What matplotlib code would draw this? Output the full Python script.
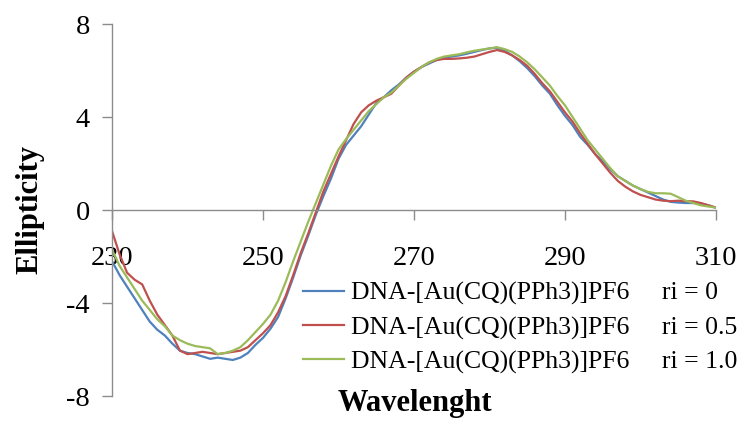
import numpy as np
import matplotlib
matplotlib.use("Agg")
import matplotlib.pyplot as plt

plt.rcParams['font.family'] = ['Liberation Serif', 'DejaVu Serif']

wavelength = list(range(230, 311))

ri_0 = [-2.2, -2.8, -3.3, -3.8, -4.3, -4.8, -5.15, -5.4, -5.75, -6.05,
        -6.15, -6.2, -6.3, -6.4, -6.35, -6.4, -6.45, -6.35, -6.15, -5.8,
        -5.5, -5.1, -4.6, -3.8, -2.9, -1.95, -1.1, -0.2, 0.6, 1.35,
        2.2, 2.8, 3.2, 3.6, 4.1, 4.6, 4.85, 5.15, 5.4, 5.7,
        5.95, 6.15, 6.3, 6.45, 6.55, 6.6, 6.65, 6.72, 6.8, 6.88,
        6.95, 6.98, 6.85, 6.65, 6.4, 6.1, 5.75, 5.35, 5.0, 4.5,
        4.05, 3.65, 3.15, 2.8, 2.4, 2.1, 1.75, 1.45, 1.25, 1.05,
        0.9, 0.75, 0.6, 0.45, 0.35, 0.32, 0.3, 0.3, 0.28, 0.2, 0.1]

ri_05 = [-0.9, -1.9, -2.7, -3.0, -3.2, -3.9, -4.5, -4.95, -5.4, -6.05,
         -6.2, -6.15, -6.1, -6.15, -6.2, -6.15, -6.1, -6.05, -5.9, -5.6,
         -5.3, -4.95, -4.4, -3.7, -2.8, -1.85, -1.0, -0.1, 0.8, 1.55,
         2.3, 3.0, 3.7, 4.2, 4.5, 4.7, 4.85, 5.0, 5.35, 5.7,
         5.95, 6.15, 6.35, 6.45, 6.5, 6.5, 6.52, 6.55, 6.6, 6.7,
         6.8, 6.88, 6.8, 6.65, 6.45, 6.2, 5.85, 5.45, 5.1, 4.65,
         4.2, 3.8, 3.3, 2.85, 2.4, 2.0, 1.6, 1.25, 1.0, 0.8,
         0.65, 0.55, 0.45, 0.4, 0.38, 0.4, 0.38, 0.37, 0.3, 0.2, 0.1]

ri_10 = [-1.7, -2.4, -2.9, -3.4, -3.9, -4.3, -4.7, -5.0, -5.4, -5.6,
         -5.75, -5.85, -5.9, -5.95, -6.2, -6.15, -6.05, -5.9, -5.6, -5.25,
         -4.9, -4.5, -3.9, -3.1, -2.2, -1.35, -0.5, 0.3, 1.1, 1.9,
         2.6, 3.05, 3.45, 3.85, 4.25, 4.55, 4.85, 5.05, 5.35, 5.65,
         5.9, 6.15, 6.35, 6.5, 6.6, 6.65, 6.7, 6.78, 6.85, 6.9,
         6.95, 7.0, 6.92, 6.8, 6.6, 6.35, 6.05, 5.7, 5.35, 4.9,
         4.5, 4.0, 3.5, 3.0, 2.6, 2.2, 1.8, 1.45, 1.25, 1.05,
         0.9, 0.78, 0.72, 0.72, 0.7, 0.55, 0.4, 0.3, 0.2, 0.15, 0.1]

series_labels = ["DNA-[Au(CQ)(PPh3)]PF6     ri = 0",
                 "DNA-[Au(CQ)(PPh3)]PF6     ri = 0.5",
                 "DNA-[Au(CQ)(PPh3)]PF6     ri = 1.0"]
colors = ["#4F81BD", "#C0504D", "#9BBB59"]
xticks = [230, 250, 270, 290, 310]
yticks = [-8, -4, 0, 4, 8]

W, H = 749, 434
fig = plt.figure(figsize=(W / 100, H / 100), dpi=100)
ax = fig.add_axes([112 / W, 1 - 396 / H, (716 - 112) / W, (396 - 24) / H])

for ys, c, lab in zip([ri_0, ri_05, ri_10], colors, series_labels):
    ax.plot(wavelength, ys, color=c, lw=1.6, label=lab)

ax.set_xlim(230, 310)
ax.set_ylim(-8, 8)
ax.set_xticks(xticks)
ax.set_yticks(yticks)
ax.set_yticklabels([str(v) for v in yticks])
ax.spines['bottom'].set_position(('data', 0))
ax.spines['top'].set_visible(False)
ax.spines['right'].set_visible(False)
for s in ['bottom', 'left']:
    ax.spines[s].set_color('#8c8c8c')
    ax.spines[s].set_linewidth(1.0)
ax.tick_params(axis='both', colors='#8c8c8c', labelcolor='black',
               labelsize=20.5, length=7, width=1.0, direction='out')
ax.tick_params(axis='x', pad=19)
ax.tick_params(axis='y', pad=9)

fig.text(30 / W, 1 - 210 / H, "Ellipticity", rotation=90, ha='center',
         va='center', fontsize=22, fontweight='bold')
fig.text(415 / W, 1 - 403 / H, "Wavelenght", ha='center', va='center',
         fontsize=22, fontweight='bold')

leg = ax.legend(loc='upper left', bbox_to_anchor=(303 / W, 1 - 282 / H),
                bbox_transform=fig.transFigure, frameon=False, fontsize=18.5,
                handlelength=1.6, handletextpad=0.25, labelspacing=0.42,
                borderpad=0, borderaxespad=0)

fig.savefig("out.png", dpi=100)
